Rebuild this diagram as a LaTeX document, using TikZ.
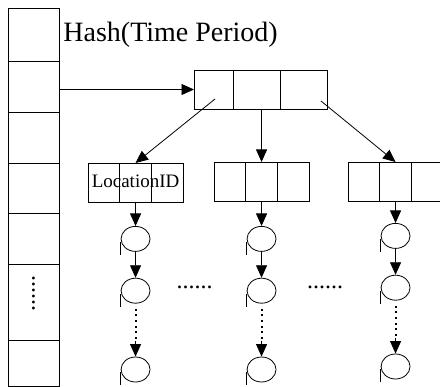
\documentclass[tikz,border=0pt]{standalone}
\usepackage{fontspec}
\setmainfont{Liberation Serif}
\usetikzlibrary{positioning,arrows.meta,shapes.geometric}

\begin{document}
\begin{tikzpicture}[
  x=1pt, y=-1pt, line width=0.8pt,
  slot/.style={draw, minimum width=51pt, inner sep=0pt, outer sep=0pt},
  cell/.style={
    draw, minimum height=39pt,
    inner sep=0pt, outer sep=0pt
  },
  rec/.style={draw, ellipse, minimum width=29pt, minimum height=25pt, inner sep=0pt},
  link/.style={-{Triangle[length=12.5pt,width=11pt]}},
  more/.style={line width=2pt, dash pattern=on 2pt off 3.7pt},
  gap/.style={font=\fontsize{24}{26}\selectfont, inner sep=0pt}
]
\useasboundingbox (0,0) rectangle (440,387);
\def\xgap{0pt} % cells touch

% --- Hash table ---
\foreach \h [count=\i] in {53pt,51pt,51pt,50pt,51pt,76pt,46pt} {
  \ifnum\i=1
    \node[slot, minimum height=\h, anchor=north west] (col\i) at (8,8) {};
  \else
    \node[slot, minimum height=\h, below=0pt of col\the\numexpr\i-1\relax] (col\i) {};
  \fi
}
\node[gap, rotate=90] (dotsv) at ([yshift=8pt]col6.center) {......};

\node[font=\fontsize{28}{32}\selectfont, anchor=base west, inner sep=0pt]
  (title) at (63,42) {Hash(Time Period)};

% --- Time period bucket ---
\foreach \w [count=\i] in {39pt,47pt,47pt} {
  \ifnum\i=1
    \node[cell, minimum width=\w, anchor=north west] (top\i) at (194,70) {};
  \else
    \node[cell, minimum width=\w, right=\xgap of top\the\numexpr\i-1\relax] (top\i) {};
  \fi
}
\draw[link] (col2.east |- top1.west) -- (top1.west);

% --- Location buckets and their chains ---
\foreach \b/\x/\y/\g in {loc/88/163/24pt, mid/214/162/25pt, rgt/348/162/22pt} {
  \foreach \i in {1,2,3} {
    \ifnum\i=1
      \node[cell, minimum width=31.7pt, anchor=north west] (\b\i) at (\x,\y) {};
    \else
      \node[cell, minimum width=31.7pt, right=\xgap of \b\the\numexpr\i-1\relax] (\b\i) {};
    \fi
  }
  \node[rec, below=\g of \b2] (\b r1) {};
  \node[rec, below=26pt of \b r1] (\b r2) {};
  \node[rec, below=53pt of \b r2] (\b r3) {};
  \foreach \j in {1,2,3} {
    \draw ([yshift=-3pt]\b r\j.west) -- ++(0,13);
  }
  \coordinate (\b m) at ([yshift=-37pt]\b r2.south);
  \draw[link] (\b2.south) -- (\b r1.north);
  \draw[link] (\b r1.south) -- (\b r2.north);
  \draw[more] ([yshift=-5pt]\b r2.south) -- (\b m);
  \draw[link] (\b m) -- (\b r3.north);
}

\node[font=\fontsize{19}{22}\selectfont, anchor=base, inner sep=0pt]
  (locname) at ([yshift=-5.5pt]loc2.center) {LocationID};

\draw[link] ([xshift=1.5pt,yshift=-9.5pt]top1.center) -- (loc2.north);
\draw[link] (mid2.north |- top2.south) -- (mid2.north);
\draw[link] ([xshift=17.5pt,yshift=-11.5pt]top3.center) -- (rgt2.north);

\node[gap] (dotsa) at (194.5,287) {......};
\node[gap] (dotsb) at (325,287) {......};
\end{tikzpicture}
\end{document}
